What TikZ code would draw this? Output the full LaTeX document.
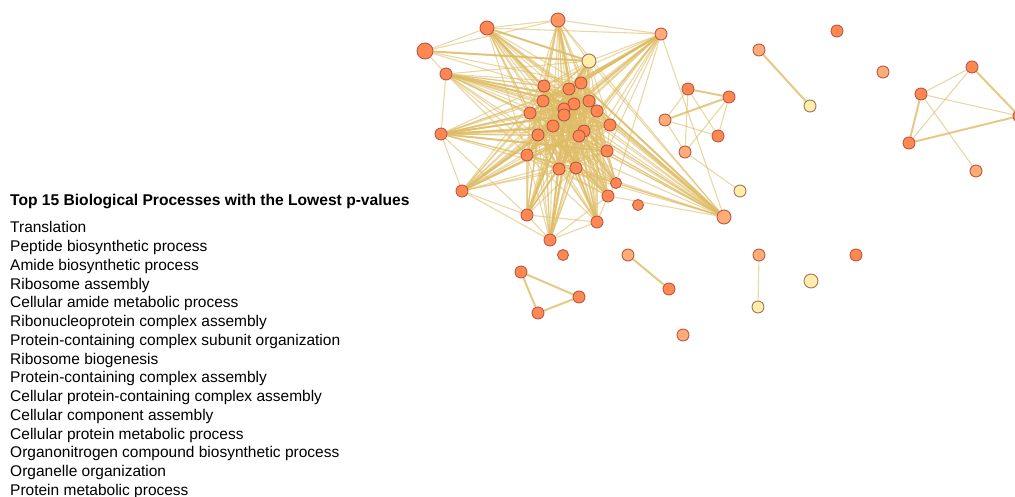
\documentclass[tikz,border=0pt]{standalone}
\usepackage{fontspec}
\setmainfont{Liberation Sans}
\usetikzlibrary{backgrounds}
\definecolor{cO}{RGB}{255,135,82}
\definecolor{cO2}{RGB}{255,150,95}
\definecolor{cL}{RGB}{255,172,120}
\definecolor{cY}{RGB}{255,238,170}
\definecolor{bd}{RGB}{185,88,68}
\definecolor{bdY}{RGB}{165,115,85}
\definecolor{edgec}{RGB}{222,188,102}
\begin{document}
\begin{tikzpicture}[x=1pt,y=-1pt,
  gn/.style={circle,draw=bd,line width=0.9pt,inner sep=0pt,minimum size=12pt,fill=cO},
  big/.style={minimum size=16pt},
  med/.style={minimum size=14pt},
  sm/.style={minimum size=11pt},
  lo/.style={fill=cL},
  lo2/.style={fill=cO2},
  ye/.style={fill=cY,draw=bdY},
  ed/.style={draw=edgec,line width=1.1pt,opacity=0.6},
  edt/.style={draw=edgec,line width=2pt,opacity=0.8},
  ttl/.style={anchor=base west,inner sep=0pt,font=\fontsize{15.6}{18}\selectfont\bfseries},
  itm/.style={anchor=base west,inner sep=0pt,font=\fontsize{15.5}{18}\selectfont}]
\clip (0,0) rectangle (1015,497);
\useasboundingbox (0,0) rectangle (1015,497);
% big cluster
\node[gn,big] (b1) at (425,51) {};
\node[gn,med] (b2) at (487,28) {};
\node[gn,med,lo2] (b3) at (558,20) {};
\node[gn,med,ye] (b4) at (589,61) {};
\node[gn,lo] (b5) at (661,34) {};
\node[gn] (b6) at (446,74) {};
\node[gn] (b7) at (441,134) {};
\node[gn] (b8) at (462,191) {};
\node[gn] (b9) at (527,215) {};
\node[gn] (b10) at (550,240) {};
\node[gn] (b11) at (597,222) {};
\node[gn] (b12) at (608,196) {};
\node[gn,sm] (b13) at (616,183) {};
\node[gn] (b14) at (607,151) {};
\node[gn] (b15) at (610,125) {};
\node[gn,med,lo] (b16) at (724,217) {};
\node[gn] (b17) at (544,86) {};
\node[gn] (b18) at (581,83) {};
\node[gn] (b19) at (569,89) {};
\node[gn] (b20) at (543,101) {};
\node[gn] (b21) at (589,101) {};
\node[gn] (b22) at (574,104) {};
\node[gn] (b23) at (564,109) {};
\node[gn] (b24) at (564,115) {};
\node[gn] (b25) at (597,111) {};
\node[gn] (b26) at (530,113) {};
\node[gn] (b27) at (553,126) {};
\node[gn] (b28) at (584,131) {};
\node[gn] (b29) at (579,136) {};
\node[gn] (b30) at (538,135) {};
\node[gn] (b31) at (527,155) {};
\node[gn] (b32) at (559,169) {};
\node[gn] (b33) at (576,168) {};
% small cluster
\node[gn] (s1) at (688,89) {};
\node[gn] (s2) at (729,97) {};
\node[gn,lo] (s3) at (665,120) {};
\node[gn] (s4) at (718,136) {};
\node[gn,lo] (s5) at (685,152) {};
\node[gn,ye] (s6) at (740,191) {};
% pairs
\node[gn,lo] (p1) at (759,50) {};
\node[gn,ye] (p2) at (810,106) {};
\node[gn,lo] (p3) at (628,255) {};
\node[gn] (p4) at (669,289) {};
\node[gn,lo] (p5) at (759,255) {};
\node[gn,ye] (p6) at (758,307) {};
% triangle
\node[gn] (t1) at (521,272) {};
\node[gn] (t2) at (579,297) {};
\node[gn] (t3) at (538,313) {};
% isolated
\node[gn,sm] (i1) at (563,255) {};
\node[gn,lo] (i2) at (683,335) {};
\node[gn,med,ye] (i3) at (811,281) {};
\node[gn] (i4) at (856,255) {};
\node[gn] (i5) at (837,31) {};
\node[gn,lo] (i6) at (883,72) {};
\node[gn,sm] (i7) at (638,205) {};
% right cluster
\node[gn] (r1) at (972,67) {};
\node[gn] (r2) at (921,94) {};
\node[gn] (r3) at (909,143) {};
\node[gn,lo] (r4) at (976,171) {};
\node[gn] (r5) at (1019,116) {};
% texts
\node[ttl] (title) at (10,206) {Top 15 Biological Processes with the Lowest p-values};
\foreach \t [count=\k] in {Translation,Peptide biosynthetic process,Amide biosynthetic process,Ribosome assembly,Cellular amide metabolic process,Ribonucleoprotein complex assembly,Protein-containing complex subunit organization,Ribosome biogenesis,Protein-containing complex assembly,Cellular protein-containing complex assembly,Cellular component assembly,Cellular protein metabolic process,Organonitrogen compound biosynthetic process,Organelle organization,Protein metabolic process}
  \node[itm] (item\k) at (10,{233+(\k-1)*18.73}) {\t};
\begin{pgfonlayer}{background}
  % inner-inner
  \foreach \i in {17,...,33}{
    \foreach \j in {17,...,33}{
      \ifnum\i<\j \draw[ed] (b\i) -- (b\j); \fi
    }
  }
  % outer-inner
  \foreach \i in {2,...,16}{
    \foreach \j in {17,...,33}{
      \draw[ed] (b\i) -- (b\j);
    }
  }
  \foreach \a/\b in {1/2,1/3,1/4,1/18,1/21,1/6,2/3,2/4,2/5,3/4,3/5,4/5,3/16,4/16,5/16,6/7,7/8,8/9,9/10,10/11,11/12,12/13,13/14,14/15,7/9,8/10,9/11,10/12,14/16,15/16,13/16,12/16,4/15,5/15,5/14,5/13,7/15,7/14,6/15,6/4,8/14,2/15}
    \draw[ed] (b\a) -- (b\b);
  \foreach \a/\b in {1/4,2/4,7/14,7/15,8/21,9/18,10/22,16/18,16/21,5/20,6/25,2/23,3/29,4/30,11/17,12/26,8/28,6/21,7/25,5/26,4/31}
    \draw[edt] (b\a) -- (b\b);
  % small cluster
  \draw[edt] (s1) -- (s2);
  \draw[edt] (s3) -- (s2);
  \draw[ed] (s1) -- (s3);
  \draw[ed] (s1) -- (s5);
  \draw[ed] (s1) -- (s4);
  \draw[ed] (s3) -- (s4);
  \draw[ed] (s3) -- (s5);
  \draw[ed] (s2) -- (s4);
  \draw[ed] (s2) -- (s5);
  \draw[ed] (s5) -- (s6);
  % pairs
  \draw[edt] (p1) -- (p2);
  \draw[edt] (p3) -- (p4);
  \draw[ed] (p5) -- (p6);
  % triangle
  \draw[edt] (t1) -- (t2);
  \draw[edt] (t1) -- (t3);
  \draw[edt] (t3) -- (t2);
  % right cluster
  \draw[ed] (r2) -- (r1);
  \draw[edt] (r2) -- (r3);
  \draw[ed] (r2) -- (r5);
  \draw[ed] (r2) -- (r4);
  \draw[ed] (r1) -- (r3);
  \draw[edt] (r1) -- (r5);
  \draw[edt] (r3) -- (r5);
\end{pgfonlayer}
\end{tikzpicture}
\end{document}
